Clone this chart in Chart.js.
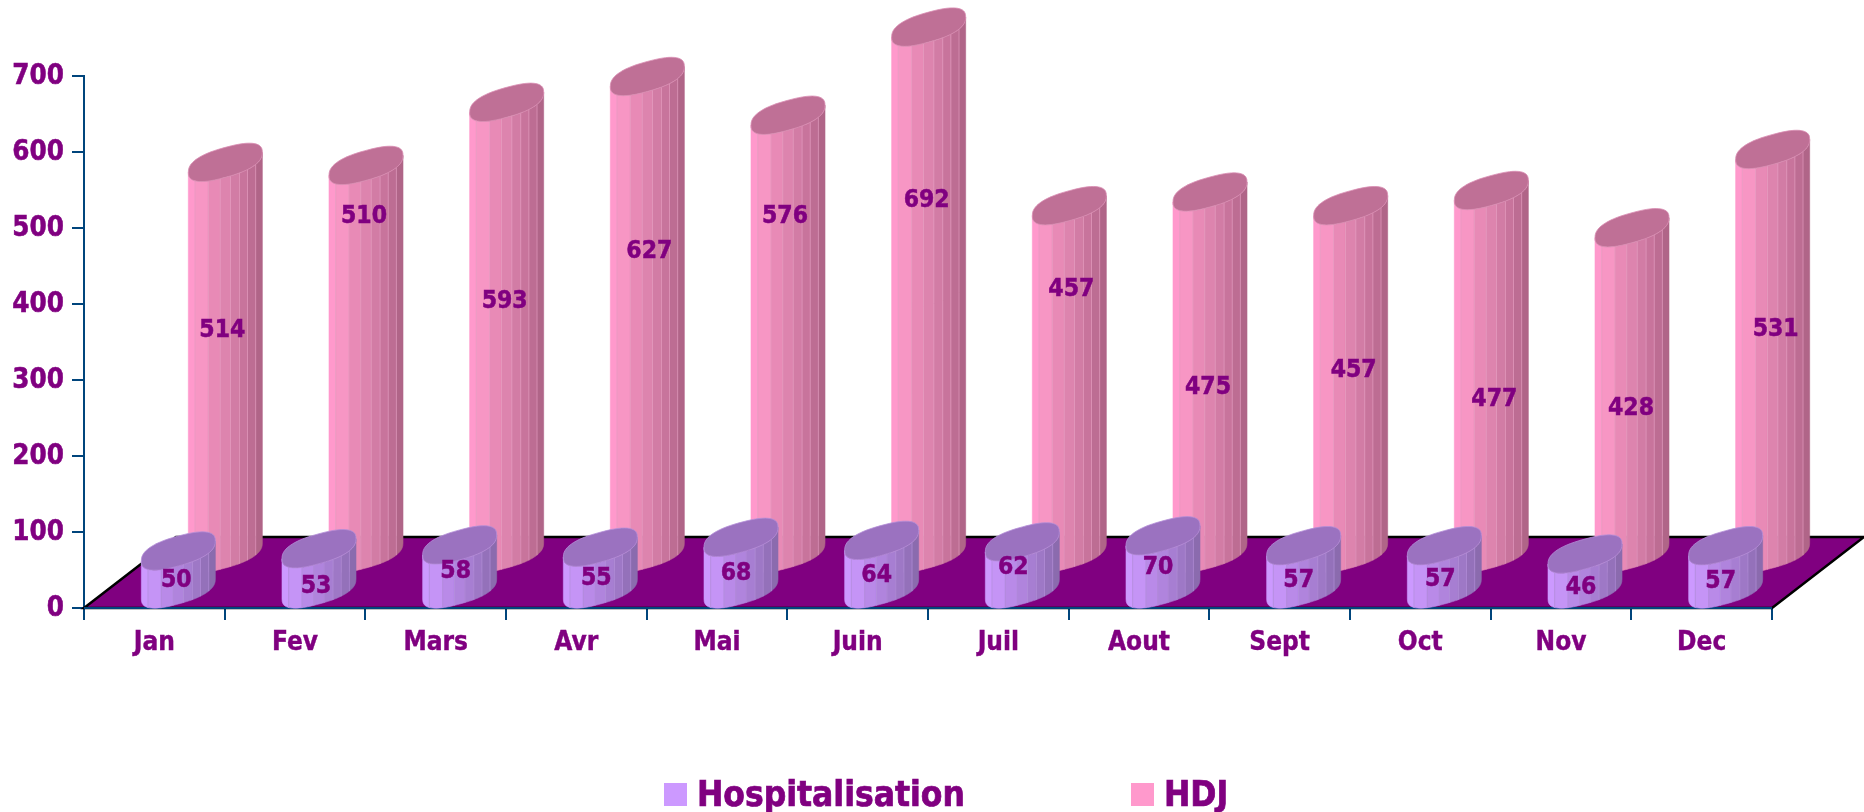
<!DOCTYPE html>
<html>
<head>
<meta charset="utf-8">
<title>Hospitalisation / HDJ</title>
<script src="https://cdn.jsdelivr.net/npm/chart.js@4/dist/chart.umd.min.js"></script>
<style>
    html, body { margin: 0; padding: 0; background: #fff; }
    #wrap { width: 1864px; height: 812px; }
</style>
</head>
<body>
<div id="wrap"><canvas id="chart" width="1864" height="812"></canvas></div>
<script>
var months = ["Jan", "Fev", "Mars", "Avr", "Mai", "Juin", "Juil", "Aout", "Sept", "Oct", "Nov", "Dec"];
var hospitalisation = [50, 53, 58, 55, 68, 64, 62, 70, 57, 57, 46, 57];
var hdj = [514, 510, 593, 627, 576, 692, 457, 475, 457, 477, 428, 531];
var yTicks = [0, 100, 200, 300, 400, 500, 600, 700];

// where the value labels sit, relative to the middle of each column
var hospNudge = [[-2, 10], [-3, 17], [-4, 4], [-4, 10], [-5, 9], [-5, 10], [-9, 1], [-5, 4], [-5, 12], [-4, 11], [-4, 15], [-5, 13]];
var hdjNudge = [[-3, -28], [-2, -144], [-2, -27], [2, -64], [-3, -118], [-2, -90], [2, -91], [-2, 14], [3, -10], [3, 27], [-1, 17], [3, -23]];

var TEXT = "#800080";
var AXIS = "#00457c";
var FONT = "'DejaVu Sans Condensed', 'DejaVu Sans', sans-serif";

// floor depth and cylinder shape, in pixels
var FLOOR_DX = 92, FLOOR_DY = 71;
var CYL_LONG_X = 37, CYL_LONG_Y = 10, CYL_SHORT_Y = 15, CYL_POW = 0.8;
var FACET_STOPS = [0, 0.09, 0.27, 0.43, 0.57, 0.69, 0.8, 0.91, 1];

var looks = [
    {
        dx: 24, dy: 19,
        top: "#9b72c0", edge: "#b48ed8", line: "#b592dd",
        facets: ["#cc99ff", "#c594f6", "#b98ae8", "#b084dd", "#a77ed2", "#9e78c6", "#9471ba", "#8b6bae"]
    },
    {
        dx: 71, dy: 55,
        top: "#bf7096", edge: "#d98db2", line: "#e79dc2",
        facets: ["#ff99cc", "#f796c4", "#e88ab6", "#dd84ae", "#d27ca5", "#c8749c", "#bd6d93", "#b06588"]
    }
];

function squash(v) {
    return (v < 0 ? -1 : 1) * Math.pow(Math.abs(v), CYL_POW);
}

// point on the rounded rim of a cylinder, ang in degrees
function rim(cx, cy, ang) {
    var r = ang * Math.PI / 180;
    var c = squash(Math.cos(r)), s = squash(Math.sin(r));
    return {
        x: cx + CYL_LONG_X * c,
        y: cy - CYL_LONG_Y * c - CYL_SHORT_Y * s
    };
}

// the rim angle for a stop going across the visible side, left to right
function stopAngle(f) {
    var u = 2 * f - 1;
    var c = (u < 0 ? -1 : 1) * Math.pow(Math.abs(u), 1 / CYL_POW);
    return 360 - Math.acos(c) * 180 / Math.PI;
}

function rimPath(ctx, cx, cy) {
    ctx.beginPath();
    for (var a = 0; a < 360; a += 6) {
        var p = rim(cx, cy, a);
        if (a === 0) ctx.moveTo(p.x, p.y); else ctx.lineTo(p.x, p.y);
    }
    ctx.closePath();
}

function drawCylinder(ctx, cx, topY, baseY, look) {
    for (var i = 0; i < look.facets.length; i++) {
        var a0 = stopAngle(FACET_STOPS[i]), a1 = stopAngle(FACET_STOPS[i + 1]);
        ctx.beginPath();
        var s = rim(cx, topY, a0);
        ctx.moveTo(s.x, s.y);
        for (var k = 0; k <= 6; k++) {
            var t = rim(cx, topY, a0 + (a1 - a0) * k / 6);
            ctx.lineTo(t.x, t.y);
        }
        for (var m = 6; m >= 0; m--) {
            var b = rim(cx, baseY, a0 + (a1 - a0) * m / 6);
            ctx.lineTo(b.x, b.y);
        }
        ctx.closePath();
        ctx.fillStyle = look.facets[i];
        ctx.fill();
        ctx.strokeStyle = look.facets[i];
        ctx.lineWidth = 0.6;
        ctx.stroke();
        if (i > 0) {
            var lt = rim(cx, topY, a0), lb = rim(cx, baseY, a0);
            ctx.beginPath();
            ctx.moveTo(lt.x, lt.y);
            ctx.lineTo(lb.x, lb.y);
            ctx.strokeStyle = look.line;
            ctx.lineWidth = 0.7;
            ctx.stroke();
        }
    }
    rimPath(ctx, cx, topY);
    ctx.fillStyle = look.top;
    ctx.fill();
    ctx.strokeStyle = look.edge;
    ctx.lineWidth = 0.8;
    ctx.stroke();
}

var cylinderPlugin = {
    id: "cylinders",
    beforeDatasetsDraw: function (chart) {
        var ctx = chart.ctx, xs = chart.scales.x, ys = chart.scales.y;
        var y0 = ys.getPixelForValue(0);

        // floor
        ctx.save();
        ctx.beginPath();
        ctx.moveTo(xs.left, y0);
        ctx.lineTo(xs.right, y0);
        ctx.lineTo(xs.right + FLOOR_DX, y0 - FLOOR_DY);
        ctx.lineTo(xs.left + FLOOR_DX, y0 - FLOOR_DY);
        ctx.closePath();
        ctx.fillStyle = "#800080";
        ctx.fill();
        ctx.strokeStyle = "#000";
        ctx.lineWidth = 2.5;
        ctx.stroke();
        ctx.beginPath();
        ctx.moveTo(xs.left, y0);
        ctx.lineTo(xs.right, y0);
        ctx.strokeStyle = AXIS;
        ctx.lineWidth = 2;
        ctx.stroke();
        ctx.restore();
    },
    afterDatasetsDraw: function (chart) {
        var ctx = chart.ctx;
        var y0 = chart.scales.y.getPixelForValue(0);
        var nudges = [hospNudge, hdjNudge];

        ctx.save();
        // back row first so the front row covers it
        [1, 0].forEach(function (d) {
            var look = looks[d];
            chart.getDatasetMeta(d).data.forEach(function (bar) {
                drawCylinder(ctx, bar.x + look.dx, bar.y - look.dy, y0 - look.dy, look);
            });
        });
        [1, 0].forEach(function (d) {
            var look = looks[d];
            chart.getDatasetMeta(d).data.forEach(function (bar, i) {
                var midY = (bar.y + y0) / 2 - look.dy;
                ctx.font = "bold 24.5px " + FONT;
                ctx.fillStyle = TEXT;
                ctx.strokeStyle = TEXT;
                ctx.lineWidth = 0.5;
                ctx.textAlign = "center";
                ctx.textBaseline = "middle";
                ctx.fillText(chart.data.datasets[d].data[i], bar.x + look.dx + nudges[d][i][0], midY + nudges[d][i][1] + 1);
                ctx.strokeText(chart.data.datasets[d].data[i], bar.x + look.dx + nudges[d][i][0], midY + nudges[d][i][1] + 1);
            });
        });

        // legend
        ctx.font = "bold 35px " + FONT;
        ctx.textAlign = "left";
        ctx.textBaseline = "alphabetic";
        ctx.strokeStyle = TEXT;
        ctx.lineWidth = 0.7;
        var boxX = [664, 1131];
        chart.data.datasets.forEach(function (ds, d) {
            ctx.fillStyle = looks[d].facets[0];
            ctx.fillRect(boxX[d], 783, 23, 23);
            ctx.fillStyle = TEXT;
            ctx.fillText(ds.label, boxX[d] + 33, 806);
            ctx.strokeText(ds.label, boxX[d] + 33, 806);
        });
        ctx.restore();
    }
};

var chart = new Chart(document.getElementById("chart"), {
    type: "bar",
    data: {
        labels: months,
        datasets: [
            { label: "Hospitalisation", data: hospitalisation, backgroundColor: "transparent", grouped: false },
            { label: "HDJ", data: hdj, backgroundColor: "transparent", grouped: false }
        ]
    },
    plugins: [cylinderPlugin],
    options: {
        responsive: false,
        animation: false,
        layout: { padding: { top: 76, right: 92, left: 0, bottom: 0 } },
        plugins: { legend: { display: false }, tooltip: { enabled: false } },
        scales: {
            x: {
                afterFit: function (axis) { axis.height = 204; },
                grid: { offset: true, drawOnChartArea: false, color: AXIS, tickLength: 12, lineWidth: 2 },
                border: { color: AXIS, width: 2 },
                ticks: {
                    color: TEXT, font: { family: FONT, size: 26, weight: "bold" }, padding: 8, maxRotation: 0,
                    textStrokeColor: TEXT, textStrokeWidth: 0.4
                }
            },
            y: {
                min: 0,
                max: 700,
                afterFit: function (axis) { axis.width = 84; },
                afterBuildTicks: function (axis) {
                    axis.ticks = yTicks.map(function (v) { return { value: v }; });
                },
                grid: { drawOnChartArea: false, color: AXIS, tickLength: 12, lineWidth: 2 },
                border: { color: AXIS, width: 2 },
                ticks: {
                    color: TEXT, font: { family: FONT, size: 27.5, weight: "bold" }, padding: 8, labelOffset: 1,
                    textStrokeColor: TEXT, textStrokeWidth: 0.5
                }
            }
        }
    }
});
</script>
</body>
</html>
